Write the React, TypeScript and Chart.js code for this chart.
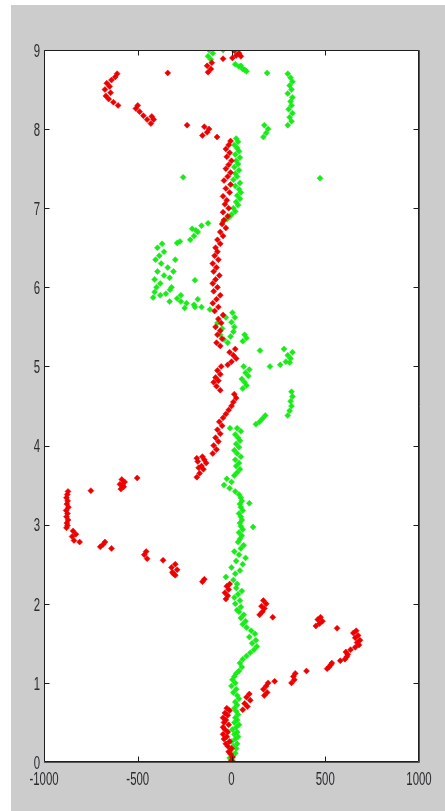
import React, { useEffect, useRef } from "react";
import { Chart, registerables } from "chart.js";

Chart.register(...registerables);

// Red series (x value, y value)
const redX = [
  0, 5, -5, -15, 0, -20, -30, -10, -40, -25, -45, -20, -35, -45, -15, -40, -30, -45, -20, -35, -10, -25,
  60, 85, 70, 100, 80, 95, 175, 190, 170, 185, 195, 230, 320, 335, 330, 340, 400, 510, 520, 530, 535, 580,
  605, 615, 620, 610, 635, 660, 680, 670, 685, 660, 675, 650, 665, 563, 450, 470, 485, 460, 475, 220,
  150, 165, 175, 160, 185, 170, -30, -20, -35, -15, -25, -10, -155, -145, -310, -300, -315, -290, -320, -300,
  -365, -450, -465, -455, -640, -700, -685, -675, -810, -840, -850, -830, -845, -880, -875, -878, -872, -880,
  -875, -882, -870, -878, -874, -880, -876, -872, -750, -590, -575, -580, -595, -570, -585, -503, -185, -170,
  -150, -175, -160, -135, -180, -145, -185, -155, -100, -80, -95, -70, -85, -60, -75, -50, -65, -45,
  -30, -15, 0, 10, 25, 15, -60, -80, -95, -70, -85, -60, -75, -55, -20, 0, 25, 10, -10, 20,
  -60, -80, -50, -75, -60, -85, -55, -70, -45, -90, -70, -100, -80, -60, -95, -75, -100, -85, -65, -95,
  -80, -100, -70, -90, -75, -85, -60, -75, -45, -60, -30, -50, -40, -20, -45, -15, -35, -25, -45, -10,
  -30, -5, -40, -20, -5, -30, -15, 0, -25, -10, -30, -15, -5, -77, -155, -130, -120, -145, -237, -430,
  -415, -425, -450, -470, -490, -510, -500, -605, -630, -655, -670, -645, -675, -650, -665, -640, -620, -610,
  -340, -125, -110, -130, -105, -45, 5, 50, 25, 40, 15,
];
const redY = [
  0.02, 0.06, 0.1, 0.13, 0.17, 0.2, 0.23, 0.26, 0.29, 0.32, 0.35, 0.38, 0.41, 0.44, 0.47, 0.5, 0.53, 0.56, 0.59, 0.62, 0.65, 0.68,
  0.66, 0.7, 0.74, 0.78, 0.82, 0.86, 0.84, 0.88, 0.92, 0.96, 1.0, 1.02, 1.0, 1.04, 1.08, 1.12, 1.15, 1.18, 1.2, 1.23, 1.25, 1.28,
  1.3, 1.33, 1.36, 1.39, 1.42, 1.45, 1.48, 1.51, 1.54, 1.57, 1.6, 1.63, 1.66, 1.69, 1.72, 1.75, 1.78, 1.8, 1.83, 1.83,
  1.86, 1.9, 1.94, 1.97, 2.0, 2.04, 2.06, 2.1, 2.14, 2.18, 2.22, 2.25, 2.28, 2.31, 2.38, 2.36, 2.4, 2.43, 2.46, 2.5,
  2.55, 2.57, 2.62, 2.66, 2.7, 2.72, 2.75, 2.78, 2.78, 2.8, 2.85, 2.88, 2.92, 2.96, 2.99, 3.02, 3.06, 3.1,
  3.14, 3.18, 3.22, 3.26, 3.3, 3.34, 3.38, 3.42, 3.43, 3.45, 3.48, 3.5, 3.51, 3.54, 3.57, 3.59, 3.6, 3.65,
  3.7, 3.72, 3.74, 3.78, 3.8, 3.82, 3.84, 3.86, 3.9, 3.95, 4.0, 4.05, 4.1, 4.15, 4.2, 4.25, 4.3, 4.35,
  4.4, 4.45, 4.5, 4.55, 4.6, 4.65, 4.7, 4.75, 4.8, 4.82, 4.86, 4.9, 4.95, 5.0, 5.02, 5.06, 5.1, 5.14, 5.18, 5.22,
  5.26, 5.3, 5.35, 5.4, 5.45, 5.5, 5.55, 5.6, 5.65, 5.7, 5.75, 5.8, 5.85, 5.9, 5.95, 6.0, 6.05, 6.1, 6.15, 6.2,
  6.25, 6.3, 6.35, 6.4, 6.45, 6.5, 6.55, 6.6, 6.65, 6.7, 6.75, 6.8, 6.85, 6.9, 6.95, 7.0, 7.05, 7.1, 7.15, 7.2,
  7.25, 7.3, 7.35, 7.4, 7.45, 7.5, 7.55, 7.6, 7.65, 7.7, 7.75, 7.8, 7.85, 7.9, 7.92, 7.96, 8.0, 8.03, 8.05, 8.07,
  8.12, 8.16, 8.12, 8.17, 8.22, 8.26, 8.3, 8.3, 8.34, 8.38, 8.42, 8.46, 8.5, 8.54, 8.58, 8.62, 8.66, 8.7,
  8.71, 8.72, 8.76, 8.8, 8.84, 8.89, 8.9, 8.92, 8.93, 8.96, 8.99,
];

// Green series (x value, y value)
const greenX = [
  5, -10, 10, 20, -5, 25, 10, 30, 0, 20, 35, 15, 30, 5, 25, 40, 15, 30, 20, 35, 25, 15, 30, 20, 40, 30,
  10, 25, 0, 20, 5, 15, 25, 40, 55, 45, 60, 80, 100, 120, 135, 110, 130, 95, 125, 105, 80, 60, 75, 50, 65, 40,
  30, 50, 20, 45, 15, 35, 55, 25, 30, 10, -30, 20, 45, 0, 60, 25, 75, 40, 15, 50, 65, 35,
  45, 55, 40, 60, 115, 50, 45, 55, 50, 40, 60, 50, 95, 45, 55, 50, 40, 20, -10, -40, 0, -25, 15,
  30, 45, 25, 40, 20, 50, 30, 15, 40, 25, 45, 35, 20, 50, 30, -8, 130, 150, 165, 180, 300, 310, 320, 315, 325, 320,
  60, 80, 70, 55, 90, 75, 95, 65, 205, 260, 310, 290, 315, 300, 325, 152, 280,
  -20, 60, -40, 80, -5, 70, -60, 10, -50, 15, -75, 0, -30, 18, 5,
  -115, -160, -195, -250, -200, -240, -270, -330, -180, -290, -418, -380, -270, -350, -410, -328,
  -320, -400, -380, -195, -410, -330, -360, -395, -310, -340, -375, -300, -405, -385, -360, -395, -370,
  -290, -275, -220, -200, -180, -190, -210, -160, -125, -45, -25, -10,
  0, 20, 10, 35, 25, 45, 30, 50, 40, 20, 45, 10, 30, -258, 472, 20, 40, 15, 35, 25, 45, 20, 40, 30, 15, 35, 25,
  170, 185, 195, 175, 300, 320, 310, 325, 305, 320, 315, 325, 300, 320, 310, 325, 315, 300, 190,
  80, 70, 60, 40, 50, 20, -110, -125, -100, -120, -45,
];
const greenY = [
  0.02, 0.05, 0.08, 0.11, 0.14, 0.17, 0.2, 0.23, 0.26, 0.29, 0.32, 0.35, 0.38, 0.41, 0.44, 0.47, 0.5, 0.53, 0.56, 0.6, 0.64, 0.68, 0.72, 0.76, 0.8, 0.84,
  0.88, 0.92, 0.96, 1.0, 1.04, 1.08, 1.12, 1.15, 1.2, 1.25, 1.3, 1.34, 1.38, 1.42, 1.46, 1.5, 1.54, 1.58, 1.62, 1.66, 1.7, 1.74, 1.78, 1.82, 1.86, 1.9,
  1.92, 1.96, 2.0, 2.04, 2.08, 2.12, 2.16, 2.2, 2.25, 2.3, 2.34, 2.38, 2.42, 2.46, 2.5, 2.54, 2.58, 2.62, 2.66, 2.7, 2.74, 2.78,
  2.82, 2.86, 2.9, 2.94, 2.97, 2.98, 3.02, 3.06, 3.1, 3.14, 3.18, 3.22, 3.27, 3.26, 3.3, 3.34, 3.38, 3.42, 3.46, 3.5, 3.54, 3.58, 3.62,
  3.66, 3.7, 3.74, 3.78, 3.82, 3.86, 3.9, 3.94, 3.98, 4.02, 4.06, 4.1, 4.14, 4.18, 4.22, 4.22, 4.27, 4.3, 4.34, 4.38, 4.38, 4.44, 4.5, 4.56, 4.62, 4.68,
  4.72, 4.76, 4.8, 4.84, 4.88, 4.92, 4.96, 5.0, 5.0, 5.02, 5.05, 5.06, 5.1, 5.14, 5.18, 5.2, 5.22,
  5.3, 5.32, 5.34, 5.36, 5.38, 5.4, 5.4, 5.44, 5.48, 5.5, 5.55, 5.56, 5.62, 5.62, 5.68,
  5.72, 5.75, 5.75, 5.74, 5.78, 5.8, 5.82, 5.82, 5.85, 5.86, 5.87, 5.9, 5.9, 5.92, 5.94, 5.97,
  6.0, 6.0, 6.05, 6.09, 6.1, 6.12, 6.15, 6.2, 6.2, 6.25, 6.3, 6.35, 6.35, 6.4, 6.45, 6.5, 6.55,
  6.56, 6.58, 6.6, 6.65, 6.7, 6.72, 6.74, 6.78, 6.81, 6.83, 6.86, 6.89,
  6.92, 6.96, 7.0, 7.04, 7.08, 7.12, 7.16, 7.2, 7.24, 7.28, 7.32, 7.36, 7.4, 7.39, 7.38, 7.44, 7.48, 7.52, 7.56, 7.6, 7.64, 7.68, 7.72, 7.76, 7.8, 7.84, 7.88,
  7.9, 7.95, 8.0, 8.05, 8.05, 8.1, 8.15, 8.2, 8.25, 8.3, 8.35, 8.4, 8.45, 8.5, 8.55, 8.6, 8.65, 8.7, 8.71,
  8.73, 8.75, 8.76, 8.79, 8.8, 8.82, 8.88, 8.92, 8.96, 9.0, 9.0,
];

const X_MIN = -1000;
const X_MAX = 1000;
const X_STEP = 500;
const Y_MIN = 0;
const Y_MAX = 9;
const Y_STEP = 1;

const toPoints = (xs: number[], ys: number[]) =>
  xs.map((x, i) => ({ x, y: ys[i] }));

const LABEL_FONT = '19px "Liberation Sans", Arial, sans-serif';
const LABEL_SQUEEZE = 0.6;

const boxPlugin = {
  id: "matlabBox",
  beforeDraw(chart: any) {
    const { ctx, chartArea: a } = chart;
    ctx.save();
    ctx.fillStyle = "#ffffff";
    ctx.fillRect(a.left, a.top, a.right - a.left, a.bottom - a.top);
    ctx.restore();
  },
  afterDraw(chart: any) {
    const { ctx, chartArea: a, scales } = chart;
    const L = Math.round(a.left) + 0.5;
    const R = Math.round(a.right) - 0.5;
    const T = Math.round(a.top) + 0.5;
    const B = Math.round(a.bottom) - 0.5;
    const len = 5;
    ctx.save();
    ctx.strokeStyle = "#1e1e1e";
    ctx.lineWidth = 1;
    ctx.beginPath();
    ctx.rect(L, T, R - L, B - T);
    scales.x.ticks.forEach((t: any) => {
      const p = Math.round(scales.x.getPixelForValue(t.value)) + 0.5;
      ctx.moveTo(p, B);
      ctx.lineTo(p, B - len);
      ctx.moveTo(p, T);
      ctx.lineTo(p, T + len);
    });
    scales.y.ticks.forEach((t: any) => {
      const p = Math.round(scales.y.getPixelForValue(t.value)) + 0.5;
      ctx.moveTo(L, p);
      ctx.lineTo(L + len, p);
      ctx.moveTo(R, p);
      ctx.lineTo(R - len, p);
    });
    ctx.stroke();
    ctx.strokeStyle = "#555555";
    ctx.beginPath();
    ctx.moveTo(L - 0.5, B + 1);
    ctx.lineTo(R + 1, B + 1);
    ctx.moveTo(R + 1, T);
    ctx.lineTo(R + 1, B + 1);
    ctx.stroke();

    // tick labels (condensed, MATLAB style), positioned from the library's scales
    ctx.font = LABEL_FONT;
    ctx.fillStyle = "#2b2b30";
    ctx.textBaseline = "alphabetic";
    const capHalf = 0.358 * 19;
    scales.x.ticks.forEach((t: any) => {
      const p = scales.x.getPixelForValue(t.value);
      ctx.save();
      ctx.translate(p, a.bottom + 16.5 + capHalf);
      ctx.scale(LABEL_SQUEEZE, 1);
      ctx.textAlign = "center";
      ctx.fillText(String(t.value), 0, 0);
      ctx.restore();
    });
    scales.y.ticks.forEach((t: any) => {
      const p = scales.y.getPixelForValue(t.value);
      ctx.save();
      ctx.translate(a.left - 4, p + capHalf);
      ctx.scale(LABEL_SQUEEZE, 1);
      ctx.textAlign = "right";
      ctx.fillText(String(t.value), 0, 0);
      ctx.restore();
    });
    ctx.restore();
  },
};

export default function App() {
  const ref = useRef<HTMLCanvasElement | null>(null);

  useEffect(() => {
    if (!ref.current) return;
    const chart = new Chart(ref.current, {
      type: "scatter",
      data: {
        datasets: [
          {
            label: "red",
            data: toPoints(redX, redY),
            backgroundColor: "rgb(236,0,0)",
            borderColor: "rgb(236,0,0)",
            borderWidth: 0.5,
            pointStyle: "rectRot",
            pointRadius: 3,
          },
          {
            label: "green",
            data: toPoints(greenX, greenY),
            backgroundColor: "rgb(24,236,24)",
            borderColor: "rgb(24,236,24)",
            borderWidth: 0.5,
            pointStyle: "rectRot",
            pointRadius: 3,
          },
        ],
      },
      options: {
        responsive: false,
        maintainAspectRatio: false,
        animation: false,
        events: [],
        layout: { padding: { top: 45, right: 26, left: 0, bottom: 0 } },
        plugins: {
          legend: { display: false },
          tooltip: { enabled: false },
        },
        scales: {
          x: {
            type: "linear",
            min: X_MIN,
            max: X_MAX,
            grid: { display: false, drawTicks: false },
            border: { display: false },
            ticks: { stepSize: X_STEP, display: false },
            afterFit: (s: any) => {
              s.height = 49;
            },
          },
          y: {
            type: "linear",
            min: Y_MIN,
            max: Y_MAX,
            grid: { display: false, drawTicks: false },
            border: { display: false },
            ticks: { stepSize: Y_STEP, display: false },
            afterFit: (s: any) => {
              s.width = 33;
            },
          },
        },
      },
      plugins: [boxPlugin],
    });
    return () => chart.destroy();
  }, []);

  return (
    <div
      style={{
        position: "absolute",
        left: 0,
        top: 0,
        width: 445,
        height: 811,
        background: "#ffffff",
        overflow: "hidden",
      }}
    >
      <div
        style={{
          position: "absolute",
          left: 11,
          top: 5,
          width: 434,
          height: 806,
          background: "#cccccc",
        }}
      >
        <canvas
          ref={ref}
          width={434}
          height={806}
          style={{ display: "block", width: 434, height: 806 }}
        />
      </div>
    </div>
  );
}
